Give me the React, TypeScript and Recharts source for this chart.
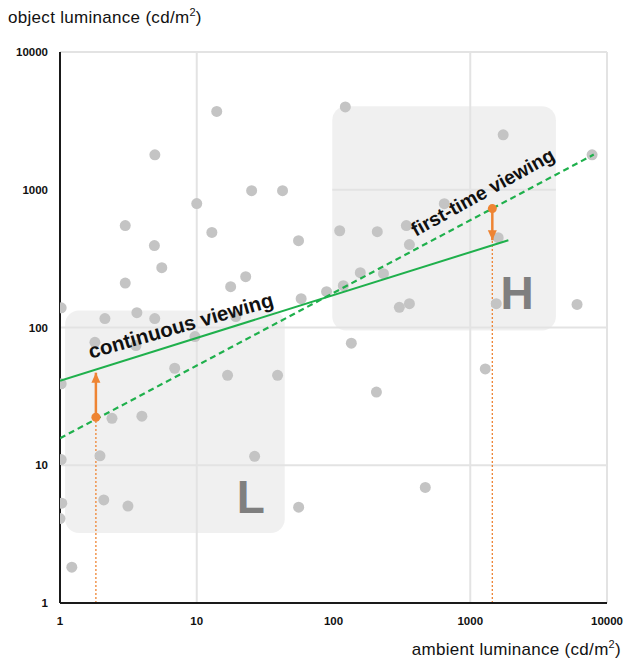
import { ScatterChart, Scatter, XAxis, YAxis, ReferenceLine, ReferenceArea, ReferenceDot } from 'recharts';

// ambient vs object luminance samples (cd/m2)
const ambient = [1.02, 1.02, 1.02, 1.03, 1.0, 1.22, 1.8, 2.13, 1.96, 2.09, 2.4, 3.14, 3.0, 3.0, 3.65, 4.93, 3.59, 3.97, 4.9, 4.94, 5.55, 6.9, 10, 9.7, 12.9, 14.0, 16.8, 17.7, 19.3, 22.8, 25.2, 26.5, 39, 42.4, 55.5, 58, 55.6, 89, 111, 118, 122, 135, 157, 209, 206, 232, 303, 341, 359, 359, 469, 646, 1741, 7778, 1600, 1549, 6040, 1288];
const objectLum = [139, 39, 11, 5.3, 4.1, 1.82, 78, 116, 11.7, 5.6, 21.9, 5.05, 550, 210, 128, 116, 74, 22.7, 393, 1793, 272, 50.6, 794, 86, 490, 3700, 45, 198, 120, 234, 985, 11.6, 45, 985, 427, 162, 4.96, 182, 504, 201, 3990, 77, 250, 496, 34, 246, 140, 549, 400, 149, 6.9, 792, 2505, 1794, 449, 149, 147, 50];

const ticks = [1, 10, 100, 1000, 10000];

// fitted lines
const continuousX = [1, 1900];
const continuousY = [41, 430];
const firstTimeX = [1, 8000];
const firstTimeY = [15.7, 1800];

// the two highlighted conditions: dot on first-time line, arrow to continuous line
const lowX = 1.83;
const lowFrom = 22.3;
const lowTo = 47;
const highX = 1450;
const highFrom = 730;
const highTo = 430;

const samples = ambient.map((x, i) => ({ x, y: objectLum[i] }));
const continuous = continuousX.map((x, i) => ({ x, y: continuousY[i] }));
const firstTime = firstTimeX.map((x, i) => ({ x, y: firstTimeY[i] }));
const lowArrow = [{ x: lowX, y: lowFrom, head: 0 }, { x: lowX, y: lowTo, head: 1 }];
const highArrow = [{ x: highX, y: highFrom, head: 0 }, { x: highX, y: highTo, head: -1 }];

const GREEN = '#1fb04c';
const ORANGE = '#ee8433';
const GRID = '#e3e3e3';
const FONT = '"Liberation Sans", Arial, sans-serif';

const grayDot = (p: any) => <circle cx={p.cx} cy={p.cy} r={5.5} fill="#c4c4c4" />;
const noDot = () => <g />;

const arrowPoint = (p: any) => {
  const h = p.payload.head;
  if (!h) return <circle cx={p.cx} cy={p.cy} r={4.5} fill={ORANGE} />;
  // h=1 points up, h=-1 points down
  const b = p.cy + 10 * h;
  return <polygon points={`${p.cx},${p.cy} ${p.cx - 4.5},${b} ${p.cx + 4.5},${b}`} fill={ORANGE} />;
};

const box = (p: any) => (
  <rect x={p.x} y={p.y} width={p.width} height={p.height} rx={14} fill="#ececec" fillOpacity={0.8} />
);

const textAt = (label: string, angle: number, size: number, color: string) => (p: any) => (
  <text
    x={p.cx}
    y={p.cy}
    transform={`rotate(${angle} ${p.cx} ${p.cy})`}
    textAnchor="middle"
    dominantBaseline="central"
    fontFamily={FONT}
    fontWeight={700}
    fontSize={size}
    fill={color}
  >
    {label}
  </text>
);

const tickStyle = { fill: '#111', fontSize: 11.5, fontWeight: 700, fontFamily: FONT };
const titleStyle = { position: 'absolute' as const, fontSize: 17, letterSpacing: 0.3, color: '#111', lineHeight: '20px' };

export default function App() {
  return (
    <div style={{ position: 'absolute', left: 0, top: 0, width: 627, height: 663, background: '#fff', fontFamily: FONT }}>
      <div style={{ ...titleStyle, left: 8, top: 8 }}>
        object luminance (cd/m<sup style={{ fontSize: 11, lineHeight: 0 }}>2</sup>)
      </div>
      <div style={{ ...titleStyle, right: 6, top: 640 }}>
        ambient luminance (cd/m<sup style={{ fontSize: 11, lineHeight: 0 }}>2</sup>)
      </div>
      <ScatterChart width={627} height={663} margin={{ top: 52, right: 20, bottom: 0, left: 0 }}>
        <XAxis
          dataKey="x"
          type="number"
          scale="log"
          domain={[1, 10000]}
          ticks={ticks}
          tickLine={false}
          tickMargin={8}
          axisLine={{ stroke: '#1a1a1a', strokeWidth: 2 }}
          tick={tickStyle}
          height={60}
          allowDataOverflow
        />
        <YAxis
          dataKey="y"
          type="number"
          scale="log"
          domain={[1, 10000]}
          ticks={ticks}
          tickLine={false}
          tickMargin={6}
          axisLine={{ stroke: '#1a1a1a', strokeWidth: 2 }}
          tick={tickStyle}
          width={60}
          allowDataOverflow
        />
        {[10, 100, 10000].map((v) => (
          <ReferenceLine key={'h' + v} y={v} stroke={GRID} strokeWidth={2} />
        ))}
        {[10, 1000, 10000].map((v) => (
          <ReferenceLine key={'v' + v} x={v} stroke={GRID} strokeWidth={2} />
        ))}
        <ReferenceLine segment={[{ x: 98, y: 1000 }, { x: 4230, y: 1000 }]} stroke={GRID} strokeWidth={2} />
        <ReferenceLine segment={[{ x: lowX, y: 1 }, { x: lowX, y: lowFrom }]} stroke={ORANGE} strokeWidth={1.3} strokeDasharray="2 2" />
        <ReferenceLine segment={[{ x: highX, y: 1 }, { x: highX, y: highTo }]} stroke={ORANGE} strokeWidth={1.3} strokeDasharray="2 2" />
        <ReferenceArea x1={1.09} x2={44} y1={3.22} y2={133} shape={box} />
        <ReferenceArea x1={98} x2={4230} y1={95} y2={4040} shape={box} />
        <ReferenceDot x={24.8} y={5.86} shape={textAt('L', 0, 46, '#7f7f7f')} />
        <ReferenceDot x={2200} y={179} shape={textAt('H', 0, 46, '#7f7f7f')} />
        <Scatter data={samples} shape={grayDot} isAnimationActive={false} />
        <Scatter data={continuous} shape={noDot} line={{ stroke: GREEN, strokeWidth: 2 }} isAnimationActive={false} />
        <Scatter data={firstTime} shape={noDot} line={{ stroke: GREEN, strokeWidth: 2.2, strokeDasharray: '6 4' }} isAnimationActive={false} />
        <Scatter data={lowArrow} shape={arrowPoint} line={{ stroke: ORANGE, strokeWidth: 2.5 }} isAnimationActive={false} />
        <Scatter data={highArrow} shape={arrowPoint} line={{ stroke: ORANGE, strokeWidth: 2.5 }} isAnimationActive={false} />
        <ReferenceDot x={7.63} y={104} shape={textAt('continuous viewing', -16, 20.5, '#111')} />
        <ReferenceDot x={1230} y={965} shape={textAt('first-time viewing', -29, 19.5, '#111')} />
      </ScatterChart>
    </div>
  );
}
